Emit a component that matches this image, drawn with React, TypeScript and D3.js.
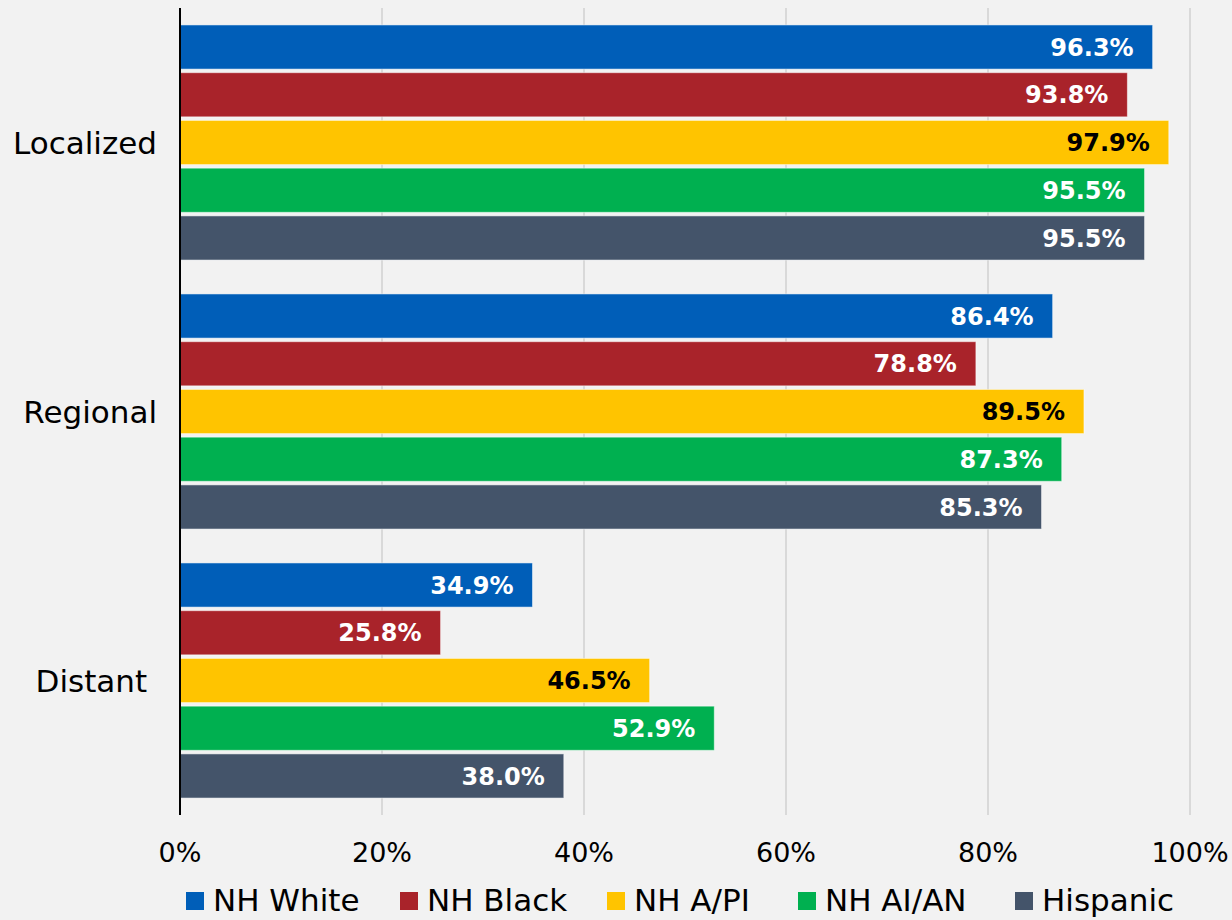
import React, { useEffect } from 'react';
import * as d3 from 'd3';

const stages = ['Localized', 'Regional', 'Distant '];
const groups = ['NH White', 'NH Black', 'NH A/PI', 'NH AI/AN', 'Hispanic'];
const localized = [96.3, 93.8, 97.9, 95.5, 95.5];
const regional = [86.4, 78.8, 89.5, 87.3, 85.3];
const distant = [34.9, 25.8, 46.5, 52.9, 38.0];
const ticks = [0, 20, 40, 60, 80, 100];

const colors = ['#005eb8', '#a9232a', '#ffc400', '#00b050', '#44546a'];
const labelColors = ['#fff', '#fff', '#000', '#fff', '#fff'];
const legendX = [186, 400, 607, 798, 1015];

const W = 1232;
const H = 920;
const FONT = '"DejaVu Sans", Verdana, sans-serif';

const App = () => {
  useEffect(() => {
    document.body.style.margin = '0';
  }, []);

  const values = [localized, regional, distant];

  const x = d3.scaleLinear().domain([0, 100]).range([180, 1190]);
  const y = d3.scaleBand().domain(stages).range([8, 815]).paddingInner(0.126).paddingOuter(0.063);
  const yInner = d3.scaleBand().domain(groups).range([0, y.bandwidth()]).paddingInner(0.075);

  return (
    <svg width={W} height={H} style={{ display: 'block', background: '#f2f2f2' }} fontFamily={FONT}>
      <rect width={W} height={H} fill="#f2f2f2" />
      {ticks.slice(1).map((t) => (
        <line key={t} x1={x(t)} x2={x(t)} y1={8} y2={815} stroke="#d9d9d9" strokeWidth={2} />
      ))}
      {stages.map((s, i) => (
        <g key={s} transform={`translate(0,${y(s)})`}>
          {groups.map((g, j) => {
            const v = values[i][j];
            const by = yInner(g) as number;
            return (
              <g key={g}>
                <rect
                  x={x(0)}
                  y={by}
                  width={x(v) - x(0)}
                  height={yInner.bandwidth()}
                  fill={colors[j]}
                  stroke="#ffffff"
                  strokeOpacity={0.5}
                  strokeWidth={1}
                />
                <text
                  x={x(v) - 19}
                  y={by + yInner.bandwidth() / 2}
                  dy="0.36em"
                  textAnchor="end"
                  fontSize={24}
                  fontWeight="bold"
                  fill={labelColors[j]}
                >
                  {v.toFixed(1)}%
                </text>
              </g>
            );
          })}
          <text
            x={157}
            y={y.bandwidth() / 2}
            dy="0.36em"
            textAnchor="end"
            fontSize={31}
            fill="#000"
            style={{ whiteSpace: 'pre' }}
          >
            {s}
          </text>
        </g>
      ))}
      <line x1={x(0)} x2={x(0)} y1={8} y2={815} stroke="#000" strokeWidth={2} />
      {ticks.map((t) => (
        <text key={t} x={x(t)} y={862} textAnchor="middle" fontSize={27} fill="#000">
          {t}%
        </text>
      ))}
      {groups.map((g, j) => (
        <g key={g} transform={`translate(${legendX[j]},0)`}>
          <rect x={0} y={892} width={18} height={18} fill={colors[j]} />
          <text x={27} y={911} fontSize={31} fill="#000">
            {g}
          </text>
        </g>
      ))}
    </svg>
  );
};

export default App;
